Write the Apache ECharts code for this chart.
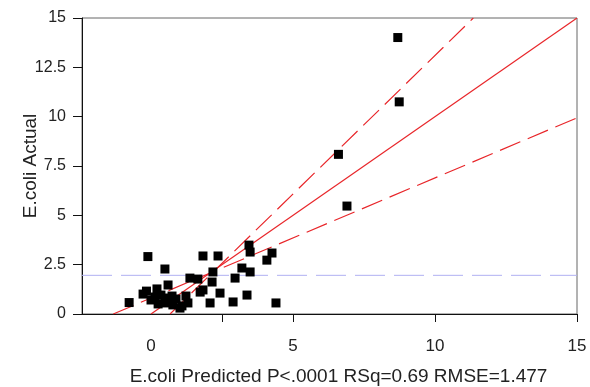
<!DOCTYPE html>
<html>
<head>
<meta charset="utf-8">
<script src="https://cdn.jsdelivr.net/npm/echarts@6/dist/echarts.min.js"></script>
<style>
  html, body { margin: 0; padding: 0; background: #fff; }
  #chart { width: 590px; height: 387px; }
</style>
</head>
<body>
<div id="chart"></div>
<script>
// E.coli predicted vs actual
const predicted = [
  -0.77, -0.11, 0.49, -0.16, -0.28, 0.0, 0.14, 0.25, 0.35, 0.49,
  0.60, 0.60, 0.74, 0.88, 1.02, 1.09, 1.23, 1.30, 1.37, 1.65,
  1.73, 1.83, 1.83, 2.08, 2.15, 2.18, 2.36, 2.43, 2.89, 2.96,
  3.20, 3.38, 3.49, 3.45, 3.49, 4.08, 4.26, 4.40, 0.21, 0.77,
  6.60, 6.90, 8.74, 8.69
];
const actual = [
  0.58, 2.91, 2.28, 1.16, 1.01, 0.71, 0.86, 0.51, 0.96, 0.56,
  1.47, 0.81, 0.91, 0.76, 0.30, 0.41, 0.91, 0.56, 1.82, 1.77,
  1.11, 2.94, 1.22, 0.56, 1.62, 2.13, 2.94, 1.06, 0.61, 1.82,
  2.33, 0.96, 2.13, 3.49, 3.14, 2.73, 3.09, 0.56, 1.27, 0.46,
  8.09, 5.47, 10.75, 14.01
];

// fit line and confidence lines (end points)
const fitLine = [[0, 0], [15, 15]];
const upperLine = [[0.67, 0], [11.35, 15]];
const lowerLine = [[-1.33, 0], [15, 9.94]];
const meanY = 1.96;

const xLabels = [0, 5, 10, 15];
const xTicks = [2.5, 5, 10, 15];
const xMin = -2.43;

const points = predicted.map((p, i) => [p, actual[i]]);

const chart = echarts.init(document.getElementById('chart'));
const red = '#e8262a';
const font = 'Liberation Sans, Arial, sans-serif';

chart.setOption({
  animation: false,
  grid: {
    left: 82, right: 13, top: 18, bottom: 73,
    outerBoundsMode: 'none',
    containLabel: false,
    show: true,
    borderColor: '#666',
    borderWidth: 1
  },
  xAxis: {
    type: 'value',
    min: xMin,
    max: 15,
    name: 'E.coli Predicted P<.0001 RSq=0.69 RMSE=1.477',
    nameLocation: 'middle',
    nameGap: 53,
    nameMoveOverlap: false,
    nameTextStyle: { fontSize: 19, color: '#222', fontFamily: font, padding: [0, 0, 0, 18] },
    axisLine: { onZero: false, lineStyle: { color: '#111', width: 1 } },
    axisTick: { show: true, length: 8, customValues: xTicks, lineStyle: { color: '#111' } },
    axisLabel: { customValues: xLabels, fontSize: 17, color: '#222', margin: 24, fontFamily: font },
    splitLine: { show: false }
  },
  yAxis: {
    type: 'value',
    min: 0,
    max: 15,
    interval: 2.5,
    name: 'E.coli Actual',
    nameLocation: 'middle',
    nameGap: 42,
    nameMoveOverlap: false,
    nameTextStyle: { fontSize: 19, color: '#222', fontFamily: font },
    axisLine: { onZero: false, lineStyle: { color: '#111', width: 1 } },
    axisTick: { show: true, length: 9, lineStyle: { color: '#111' } },
    axisLabel: { fontSize: 16, color: '#222', margin: 16, fontFamily: font },
    splitLine: { show: false }
  },
  series: [
    {
      type: 'line',
      data: [[xMin, meanY], [15, meanY]],
      symbol: 'none',
      lineStyle: { color: '#b0b0f2', width: 1, type: [30, 9] },
      z: 1
    },
    {
      type: 'line',
      data: fitLine,
      symbol: 'none',
      lineStyle: { color: red, width: 1.2 },
      z: 2
    },
    {
      type: 'line',
      data: upperLine,
      symbol: 'none',
      lineStyle: { color: red, width: 1.2, type: [22, 8] },
      z: 2
    },
    {
      type: 'line',
      data: lowerLine,
      symbol: 'none',
      lineStyle: { color: red, width: 1.2, type: [22, 8] },
      z: 2
    },
    {
      type: 'scatter',
      data: points,
      symbol: 'rect',
      symbolSize: 9,
      itemStyle: { color: '#000', opacity: 1 },
      z: 3
    }
  ]
});
</script>
</body>
</html>
